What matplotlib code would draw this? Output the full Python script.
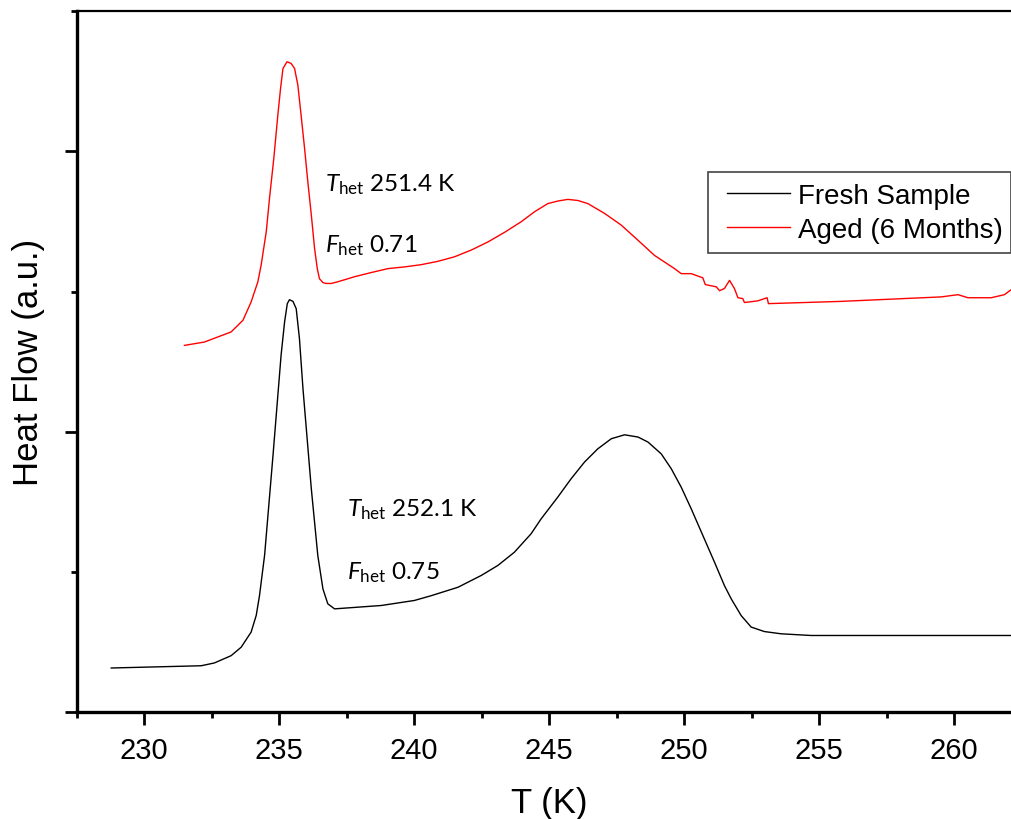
import numpy as np
import matplotlib
matplotlib.use("Agg")
import matplotlib.pyplot as plt
import matplotlib.patches as mpatches
from matplotlib.ticker import MultipleLocator

# fresh sample (black)
fresh_T = [228.78, 232.11, 232.60, 233.22, 233.59, 233.96, 234.15, 234.27, 234.46,
           234.77, 235.07, 235.20, 235.30, 235.38, 235.51, 235.63, 235.75, 235.88,
           236.19, 236.43, 236.62, 236.80, 237.05, 238.78, 240.01, 240.63, 241.62,
           242.48, 243.10, 243.71, 244.33, 244.70, 245.32, 245.81, 246.31, 246.80,
           247.30, 247.79, 248.29, 248.66, 249.15, 249.52, 249.89, 250.26, 250.69,
           251.12, 251.49, 251.74, 252.11, 252.48, 252.97, 253.59, 254.70, 262.6]
fresh_hf = [0.157, 0.165, 0.175, 0.201, 0.231, 0.285, 0.345, 0.415, 0.560,
            0.915, 1.273, 1.392, 1.457, 1.471, 1.465, 1.439, 1.332, 1.154,
            0.796, 0.558, 0.439, 0.386, 0.368, 0.380, 0.398, 0.415, 0.445,
            0.487, 0.523, 0.570, 0.636, 0.689, 0.767, 0.832, 0.892, 0.939,
            0.975, 0.989, 0.981, 0.963, 0.921, 0.868, 0.802, 0.725, 0.630,
            0.535, 0.451, 0.404, 0.344, 0.303, 0.287, 0.279, 0.273, 0.273]

# aged 6 months (red)
aged_T = [231.49, 232.23, 233.22, 233.66, 233.96, 234.21, 234.33, 234.52, 234.64,
          234.80, 234.95, 235.05, 235.14, 235.29, 235.44, 235.57, 235.69, 235.81,
          235.94, 236.06, 236.19, 236.31, 236.41, 236.49, 236.62, 236.74, 236.93,
          237.17, 237.79, 238.41, 239.03, 239.64, 240.26, 240.88, 241.49, 242.11,
          242.73, 243.34, 243.96, 244.46, 244.95, 245.32, 245.69, 246.06, 246.43,
          247.05, 247.67, 248.29, 248.90, 249.64, 249.89, 250.26, 250.69, 250.78,
          251.19, 251.31, 251.49, 251.68, 251.86, 251.99, 252.17, 252.23, 252.73,
          253.07, 253.12, 255.81, 259.52, 260.14, 260.51, 261.37, 261.86, 262.17,
          262.6]
aged_hf = [1.308, 1.320, 1.356, 1.398, 1.463, 1.535, 1.594, 1.713, 1.832,
           1.975, 2.130, 2.225, 2.296, 2.320, 2.314, 2.296, 2.237, 2.130,
           2.011, 1.892, 1.773, 1.654, 1.582, 1.546, 1.532, 1.529, 1.529,
           1.535, 1.553, 1.568, 1.582, 1.588, 1.596, 1.608, 1.624, 1.648,
           1.677, 1.711, 1.749, 1.785, 1.814, 1.823, 1.829, 1.825, 1.814,
           1.779, 1.737, 1.683, 1.629, 1.582, 1.564, 1.564, 1.549, 1.525,
           1.517, 1.503, 1.511, 1.540, 1.511, 1.478, 1.475, 1.461, 1.467,
           1.478, 1.457, 1.465, 1.481, 1.489, 1.478, 1.478, 1.489, 1.511,
           1.56]

labels = ["Fresh Sample", "Aged (6 Months)"]
notes_fresh = [r"$T_{\rm het}$ 252.1 K", r"$F_{\rm het}$ 0.75"]
notes_aged = [r"$T_{\rm het}$ 251.4 K", r"$F_{\rm het}$ 0.71"]

plt.rcParams["font.family"] = ["Liberation Sans", "DejaVu Sans"]
plt.rcParams["mathtext.fontset"] = "custom"
plt.rcParams["mathtext.rm"] = "Lato"
plt.rcParams["mathtext.it"] = "Lato:italic"

fig = plt.figure(figsize=(10.12, 8.2), dpi=100)
ax = fig.add_axes([76.7 / 1012, 107 / 820, 945 / 1012, 700.7 / 820])

ax.plot(fresh_T, fresh_hf, color="black", lw=1.0, label=labels[0],
        solid_joinstyle="round")
ax.plot(aged_T, aged_hf, color="red", lw=1.0, label=labels[1],
        solid_joinstyle="round")

ax.set_xlim(227.5, 262.5)
ax.set_ylim(0, 2.5)
ax.xaxis.set_major_locator(MultipleLocator(5))
ax.xaxis.set_minor_locator(MultipleLocator(2.5))
ax.yaxis.set_major_locator(MultipleLocator(1))
ax.yaxis.set_minor_locator(MultipleLocator(0.5))

for s in ["left", "bottom"]:
    ax.spines[s].set_linewidth(2.4)
ax.spines["top"].set_linewidth(1.6)
ax.spines["right"].set_linewidth(1.6)

ax.tick_params(axis="both", which="both", direction="out", width=2.0)
ax.tick_params(axis="y", which="major", length=9)
ax.tick_params(axis="y", which="minor", length=4)
ax.tick_params(axis="x", which="major", length=9, labelsize=21, pad=8)
ax.tick_params(axis="x", which="minor", length=4.5)
ax.tick_params(axis="y", which="both", left=True, labelleft=False)

ax.set_ylabel("Heat Flow (a.u.)", fontsize=25, labelpad=14)
ax.set_xlabel("T (K)", fontsize=25, labelpad=16)

# annotations (Lato, Calibri-like)
kw = dict(fontsize=17.5, family="Lato", va="baseline")
ax.text(236.68, 1.862, notes_aged[0], **kw)
ax.text(236.68, 1.643, notes_aged[1], **kw)
ax.text(237.50, 0.701, notes_fresh[0], **kw)
ax.text(237.50, 0.475, notes_fresh[1], **kw)

# legend without frame, box drawn separately
leg = ax.legend(loc="upper left", bbox_to_anchor=(727 / 1012, 1 - 184 / 820),
                bbox_transform=fig.transFigure, fontsize=20, frameon=False,
                handlelength=2.27, handletextpad=0.3, borderpad=0,
                labelspacing=0.28, borderaxespad=0)
fig.patches.append(mpatches.Rectangle((708 / 1012, 1 - 254 / 820),
                                      303 / 1012, 81 / 820,
                                      transform=fig.transFigure, fill=False,
                                      edgecolor="#444444", lw=1.2))

fig.savefig("out.png", dpi=100)
